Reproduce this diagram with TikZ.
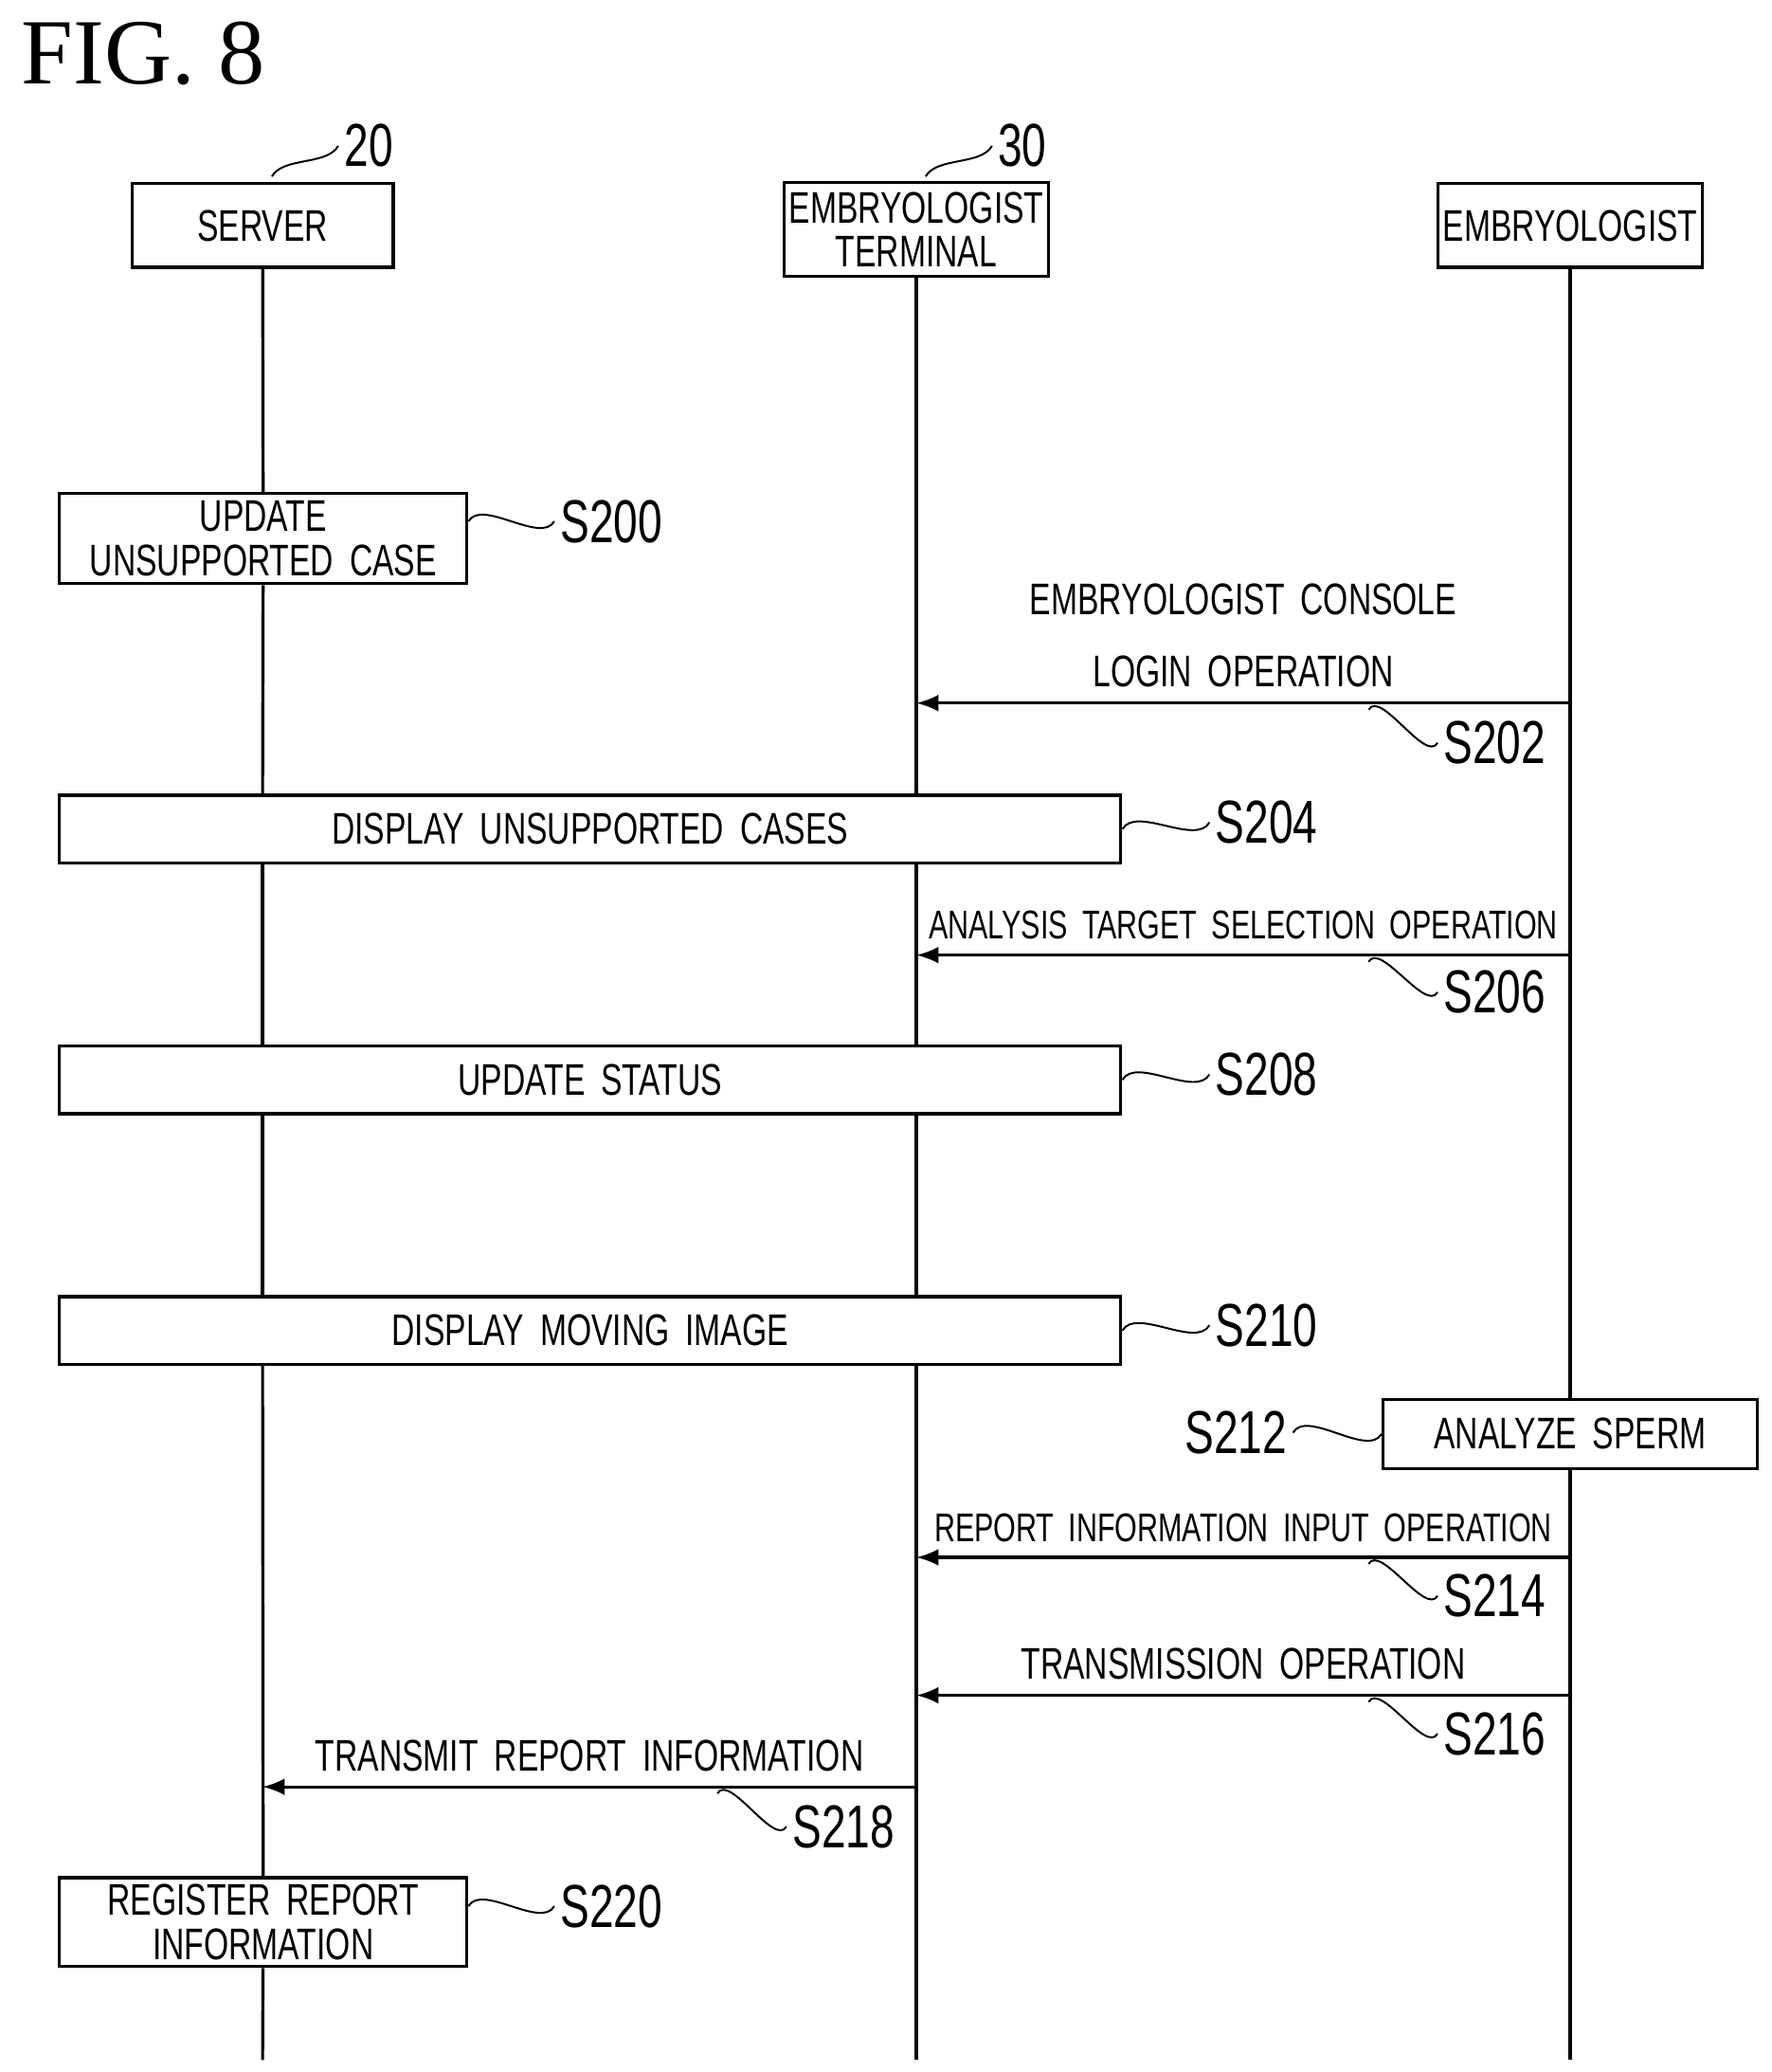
\documentclass[tikz,border=0pt]{standalone}
\usepackage{fontspec}
\setmainfont{Liberation Serif}
\newfontfamily\figfont[FakeStretch=0.72,WordSpace=1.8]{Liberation Sans}
\usetikzlibrary{positioning}
\usetikzlibrary{calc}

\begin{document}
\begin{tikzpicture}[x=0.01cm,y=-0.01cm,line width=0.65pt,font=\figfont\fontsize{9.5}{9.5}\selectfont]

  \tikzset{actor/.style={rectangle,draw=black,minimum width=1.97cm,minimum height=0.63cm,inner sep=1pt,align=center}}
  \tikzset{stepbox/.style={rectangle,draw=black,minimum height=0.51cm,inner sep=1pt,align=center}}
  \tikzset{msg/.style={draw=black,->,>=latex}}
  \tikzset{steplabel/.style={font=\figfont\fontsize{13}{14}\selectfont,inner sep=1pt}}
  \tikzset{squig/.style={draw=black,thin,out=60,in=240,looseness=0.8}}
  \newcommand\squig[2]{\draw [squig] #1 to #2;}

  \useasboundingbox (0,0) rectangle (1336,1562);

  \node [anchor=west,inner sep=0pt,font=\fontsize{20}{21}\selectfont] (fig) at (15,40) {FIG. 8};

  % Actors

  \node [actor] (server) at (198,170) {SERVER};
  \node [actor,minimum height=0.71cm] (terminal) at (691,173) {EMBRYOLOGIST\\TERMINAL};
  \node [actor] (embryo) at (1184,170) {EMBRYOLOGIST};

  \node [steplabel] (ref20) at (278,110) {20};
  \node [steplabel] (ref30) at (771,110) {30};
  \squig{(205,133)}{(ref20.west)}
  \squig{(698,133)}{(ref30.west)}

  \coordinate (server end) at (198,1553);
  \coordinate (terminal end) at (691,1553);
  \coordinate (embryo end) at (1184,1553);

  % Steps

  \node [stepbox,minimum width=3.07cm,minimum height=0.68cm] (s200) at (198.5,406) {UPDATE\\UNSUPPORTED CASE};
  \node [stepbox,minimum width=8cm] (s204) at (445,625) {DISPLAY UNSUPPORTED CASES};
  \node [stepbox,minimum width=8cm] (s208) at (445,814) {UPDATE STATUS};
  \node [stepbox,minimum width=8cm] (s210) at (445,1003) {DISPLAY MOVING IMAGE};
  \node [stepbox,minimum width=2.82cm,minimum height=0.52cm] (s212) at (1184,1081) {ANALYZE SPERM};
  \node [stepbox,minimum width=3.07cm,minimum height=0.67cm] (s220) at (198.5,1449) {REGISTER REPORT\\INFORMATION};

  % Lifelines

  \draw (server) -- (s200);
  \draw (s200) -- (s204.north -| server);
  \draw (s204.south -| server) -- (s208.north -| server);
  \draw (s208.south -| server) -- (s210.north -| server);
  \draw (s210.south -| server) -- (s220);
  \draw (s220) -- (server end);
  \draw (terminal) -- (s204.north -| terminal);
  \draw (s204.south -| terminal) -- (s208.north -| terminal);
  \draw (s208.south -| terminal) -- (s210.north -| terminal);
  \draw (s210.south -| terminal) -- (terminal end);
  \draw (embryo) -- (s212);
  \draw (s212) -- (embryo end);

  % Messages

  \coordinate (m202 a) at (1184,530);   \coordinate (m202 b) at (691,530);
  \coordinate (m206 a) at (1184,720);   \coordinate (m206 b) at (691,720);
  \coordinate (m214 a) at (1184,1174);  \coordinate (m214 b) at (691,1174);
  \coordinate (m216 a) at (1184,1278);  \coordinate (m216 b) at (691,1278);
  \coordinate (m218 a) at (691,1347);   \coordinate (m218 b) at (198,1347);

  \draw [msg] (m202 a) -- (m202 b)
    node [midway,above,align=center,inner sep=3pt] {EMBRYOLOGIST CONSOLE\\[6pt]LOGIN OPERATION};
  \draw [msg] (m206 a) -- (m206 b)
    node [midway,above,inner sep=3pt,font=\figfont\fontsize{8.6}{9}\selectfont] {ANALYSIS TARGET SELECTION OPERATION};
  \draw [msg] (m214 a) -- (m214 b)
    node [midway,above,inner sep=3pt,font=\figfont\fontsize{8.6}{9}\selectfont] {REPORT INFORMATION INPUT OPERATION};
  \draw [msg] (m216 a) -- (m216 b)
    node [midway,above,inner sep=3pt] {TRANSMISSION OPERATION};
  \draw [msg] (m218 a) -- (m218 b)
    node [midway,above,inner sep=3pt] {TRANSMIT REPORT INFORMATION};

  % Step labels

  \node [steplabel,anchor=west] (l200) at (418,393) {S200};
  \node [steplabel,anchor=west] (l202) at (1084,560) {S202};
  \node [steplabel,anchor=west] (l204) at (912,620) {S204};
  \node [steplabel,anchor=west] (l206) at (1084,748) {S206};
  \node [steplabel,anchor=west] (l208) at (912,810) {S208};
  \node [steplabel,anchor=west] (l210) at (912,999) {S210};
  \node [steplabel,anchor=east] (l212) at (975,1080) {S212};
  \node [steplabel,anchor=west] (l214) at (1084,1203) {S214};
  \node [steplabel,anchor=west] (l216) at (1084,1307) {S216};
  \node [steplabel,anchor=west] (l218) at (593,1377) {S218};
  \node [steplabel,anchor=west] (l220) at (418,1437) {S220};

  \squig{(s200.east |- l200)}{(l200.west)}
  \squig{(1032,535)}{(l202.west)}
  \squig{(s204.east)}{(l204.west)}
  \squig{(1032,725)}{(l206.west)}
  \squig{(s208.east)}{(l208.west)}
  \squig{(s210.east)}{(l210.west)}
  \squig{(l212.east)}{(s212.west)}
  \squig{(1032,1179)}{(l214.west)}
  \squig{(1032,1283)}{(l216.west)}
  \squig{(541,1352)}{(l218.west)}
  \squig{(s220.east |- l220)}{(l220.west)}

\end{tikzpicture}
\end{document}
